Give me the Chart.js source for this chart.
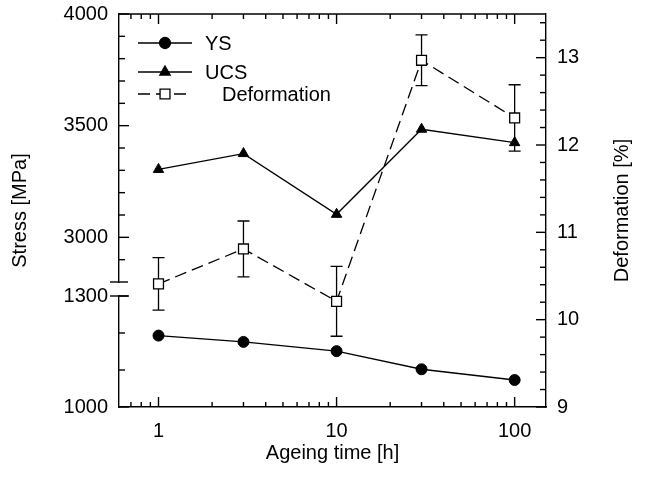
<!DOCTYPE html>
<html>
<head>
<meta charset="utf-8">
<script src="https://cdn.jsdelivr.net/npm/chart.js@4.4.1/dist/chart.umd.min.js"></script>
<style>
  html, body { margin: 0; padding: 0; background: #fff; }
  #wrap { width: 645px; height: 494px; position: relative; }
</style>
</head>
<body>
<div id="wrap"><canvas id="chart"></canvas></div>
<script>
// ── Data ──
const ageingTime = [1, 3, 10, 30, 100];
const ysValues = [1193, 1176, 1151, 1102, 1073];
const ucsValues = [3304, 3375, 3103, 3484, 3424];
const deformValues = [10.41, 10.81, 10.21, 12.97, 12.31];
const deformErr = [0.3, 0.32, 0.4, 0.29, 0.38];

// ── Ticks ──
const xTicks = [1, 10, 100];
const xMinor = [0.7, 0.8, 0.9, 2, 3, 4, 5, 6, 7, 8, 9, 20, 30, 40, 50, 60, 70, 80, 90];
const highTicks = [3000, 3500, 4000];
const highMinor = [2900, 3100, 3200, 3300, 3400, 3600, 3700, 3800, 3900];
const lowTicks = [1000, 1300];
const lowMinor = [1100, 1200];
const defTicks = [9, 10, 11, 12, 13];
const defMinor = [9.2, 9.4, 9.6, 9.8, 10.2, 10.4, 10.6, 10.8, 11.2, 11.4, 11.6, 11.8,
                  12.2, 12.4, 12.6, 12.8, 13.2, 13.4];

const FONT = { family: "'Liberation Sans', Arial, sans-serif", size: 20 };
const FONT_CSS = "20px 'Liberation Sans', Arial, sans-serif";
const AXIS_W = 1.4;

const toPoints = vals => ageingTime.map((t, i) => ({ x: t, y: vals[i] }));

// ── Inward ticks, top frame, axis break ──
const frameTicks = {
  id: 'frameTicks',
  afterDraw(chart) {
    const { ctx, chartArea: a, scales } = chart;
    const seg = (x1, y1, x2, y2) => {
      ctx.beginPath();
      ctx.moveTo(x1, y1);
      ctx.lineTo(x2, y2);
      ctx.stroke();
    };
    ctx.save();
    ctx.strokeStyle = '#000';
    ctx.lineWidth = AXIS_W;
    seg(a.left, a.top, a.right, a.top);

    const xt = (v, len) => {
      const x = scales.x.getPixelForValue(v);
      seg(x, a.bottom, x, a.bottom - len);
      seg(x, a.top, x, a.top + len);
    };
    xTicks.forEach(v => xt(v, 10));
    xMinor.forEach(v => xt(v, 5));

    const lt = (scale, v, len) => {
      const y = scale.getPixelForValue(v);
      seg(a.left, y, a.left + len, y);
    };
    highTicks.forEach(v => lt(scales.yHigh, v, 10));
    highMinor.forEach(v => lt(scales.yHigh, v, 6));
    lowTicks.forEach(v => lt(scales.yLow, v, 10));
    lowMinor.forEach(v => lt(scales.yLow, v, 6));

    const rt = (v, len) => {
      const y = scales.yDef.getPixelForValue(v);
      seg(a.right, y, a.right - len, y);
    };
    defTicks.forEach(v => rt(v, 10));
    defMinor.forEach(v => rt(v, 6));

    // axis break marks
    [scales.yHigh.bottom, scales.yLow.top].forEach(y => seg(a.left - 9, y, a.left + 9, y));
    ctx.restore();
  }
};

// ── Error bars for deformation ──
const errorBars = {
  id: 'errorBars',
  beforeDatasetsDraw(chart) {
    const { ctx, scales } = chart;
    ctx.save();
    ctx.strokeStyle = '#000';
    ctx.lineWidth = 1.3;
    ctx.beginPath();
    ageingTime.forEach((t, i) => {
      const x = scales.x.getPixelForValue(t);
      const y1 = scales.yDef.getPixelForValue(deformValues[i] + deformErr[i]);
      const y2 = scales.yDef.getPixelForValue(deformValues[i] - deformErr[i]);
      ctx.moveTo(x, y1); ctx.lineTo(x, y2);
      ctx.moveTo(x - 6, y1); ctx.lineTo(x + 6, y1);
      ctx.moveTo(x - 6, y2); ctx.lineTo(x + 6, y2);
    });
    ctx.stroke();
    ctx.restore();
  }
};

// ── Axis titles and legend ──
const titlesLegend = {
  id: 'titlesLegend',
  afterDraw(chart) {
    const { ctx, chartArea: a } = chart;
    ctx.save();
    ctx.fillStyle = '#000';
    ctx.font = FONT_CSS;
    ctx.textAlign = 'center';
    ctx.textBaseline = 'middle';
    ctx.fillText('Ageing time [h]', (a.left + a.right) / 2, 453);
    const midY = (a.top + a.bottom) / 2;
    ctx.save();
    ctx.translate(20, midY);
    ctx.rotate(-Math.PI / 2);
    ctx.fillText('Stress [MPa]', 0, 0);
    ctx.restore();
    ctx.save();
    ctx.translate(622, midY);
    ctx.rotate(-Math.PI / 2);
    ctx.fillText('Deformation [%]', 0, 0);
    ctx.restore();

    // legend
    const rows = [43, 72, 94];
    const textX = [205, 205, 222];
    ctx.textAlign = 'left';
    chart.data.datasets.forEach((ds, i) => {
      const y = rows[i];
      ctx.save();
      ctx.strokeStyle = '#000';
      ctx.lineWidth = 1.3;
      ctx.setLineDash(ds.borderDash || []);
      ctx.beginPath();
      ctx.moveTo(138, y); ctx.lineTo(192, y);
      ctx.stroke();
      ctx.setLineDash([]);
      ctx.fillStyle = ds.pointBackgroundColor;
      Chart.helpers.drawPoint(ctx, {
        pointStyle: ds.pointStyle, radius: ds.pointRadius, rotation: 0,
        borderWidth: ds.pointBorderWidth
      }, 165, y);
      ctx.restore();
      ctx.fillText(ds.label, textX[i], y + 1);
    });
    ctx.restore();
  }
};

const noPad = s => { s.paddingTop = 0; s.paddingBottom = 0; s.paddingLeft = 0; s.paddingRight = 0; };

const stressLeft = (min, max, ticks, weight) => ({
  type: 'linear', position: 'left', stack: 'stress', stackWeight: weight,
  min, max,
  grid: { display: false, drawTicks: false },
  border: { display: true, color: '#000', width: AXIS_W },
  ticks: { font: FONT, color: '#000', padding: 11, autoSkip: false, callback: v => String(v) },
  afterBuildTicks: s => { s.ticks = ticks.map(v => ({ value: v })); },
  afterFit: s => { s.width = 119; noPad(s); }
});

new Chart(document.getElementById('chart'), {
  type: 'line',
  data: {
    datasets: [
      {
        label: 'YS', data: toPoints(ysValues), yAxisID: 'yLow',
        borderColor: '#000', borderWidth: 1.3,
        pointStyle: 'circle', pointRadius: 5.5,
        pointBackgroundColor: '#000', pointBorderColor: '#000', pointBorderWidth: 1
      },
      {
        label: 'UCS', data: toPoints(ucsValues), yAxisID: 'yHigh',
        borderColor: '#000', borderWidth: 1.3,
        pointStyle: 'triangle', pointRadius: 6,
        pointBackgroundColor: '#000', pointBorderColor: '#000', pointBorderWidth: 1
      },
      {
        label: 'Deformation', data: toPoints(deformValues), yAxisID: 'yDef',
        borderColor: '#000', borderWidth: 1.3, borderDash: [12, 6],
        pointStyle: 'rect', pointRadius: 7,
        pointBackgroundColor: '#fff', pointBorderColor: '#000', pointBorderWidth: 1.3
      }
    ]
  },
  options: {
    responsive: true,
    maintainAspectRatio: false,
    animation: false,
    layout: { padding: { top: 14, left: 0, right: 0, bottom: 0 } },
    plugins: { legend: { display: false }, tooltip: { enabled: false } },
    scales: {
      x: {
        type: 'logarithmic', position: 'bottom', min: 0.6, max: 150,
        grid: { display: false, drawTicks: false },
        border: { color: '#000', width: AXIS_W },
        ticks: { font: FONT, color: '#000', padding: 12, autoSkip: false, maxRotation: 0,
                 callback: v => String(v) },
        afterBuildTicks: s => { s.ticks = xTicks.map(v => ({ value: v })); },
        afterFit: s => { s.height = 87; noPad(s); }
      },
      yLow: stressLeft(1000, 1300, lowTicks, 111),
      yGap: {
        type: 'linear', position: 'left', stack: 'stress', stackWeight: 14,
        min: 0, max: 1,
        grid: { display: false, drawTicks: false },
        border: { display: false },
        ticks: { display: false },
        afterFit: s => { s.width = 119; noPad(s); }
      },
      yHigh: stressLeft(2800, 4000, highTicks, 268),
      yDef: {
        type: 'linear', position: 'right', min: 9, max: 13.5,
        grid: { display: false, drawTicks: false },
        border: { color: '#000', width: AXIS_W },
        ticks: { font: FONT, color: '#000', padding: 11, autoSkip: false },
        afterBuildTicks: s => { s.ticks = defTicks.map(v => ({ value: v })); },
        afterFit: s => { s.width = 99; noPad(s); }
      }
    }
  },
  plugins: [frameTicks, errorBars, titlesLegend]
});
</script>
</body>
</html>
